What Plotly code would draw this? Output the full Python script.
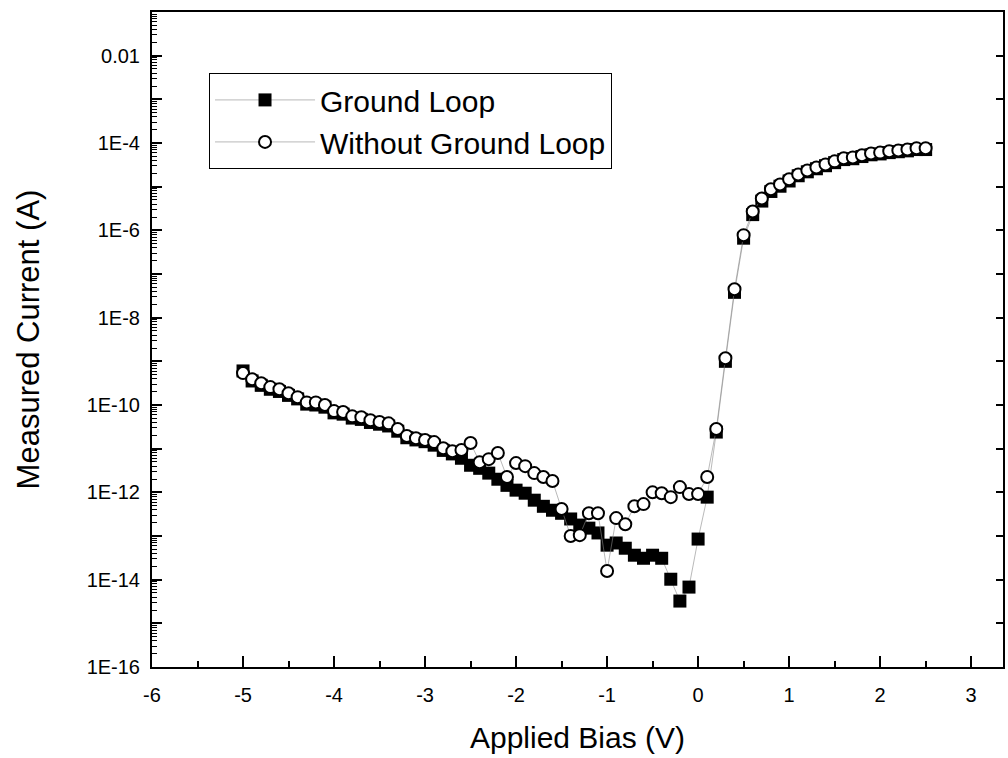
import plotly.graph_objects as go

bias_v = [-5.0, -4.9, -4.8, -4.7, -4.6, -4.5, -4.4, -4.3, -4.2, -4.1,
          -4.0, -3.9, -3.8, -3.7, -3.6, -3.5, -3.4, -3.3, -3.2, -3.1,
          -3.0, -2.9, -2.8, -2.7, -2.6, -2.5, -2.4, -2.3, -2.2, -2.1,
          -2.0, -1.9, -1.8, -1.7, -1.6, -1.5, -1.4, -1.3, -1.2, -1.1,
          -1.0, -0.9, -0.8, -0.7, -0.6, -0.5, -0.4, -0.3, -0.2, -0.1,
          0.0, 0.1, 0.2, 0.3, 0.4, 0.5, 0.6, 0.7, 0.8, 0.9,
          1.0, 1.1, 1.2, 1.3, 1.4, 1.5, 1.6, 1.7, 1.8, 1.9,
          2.0, 2.1, 2.2, 2.3, 2.4, 2.5]

# log10 of measured current (A)
log_i_ground_loop = [-9.22, -9.45, -9.55, -9.64, -9.69, -9.78, -9.86, -9.98, -10.00, -10.05,
                     -10.18, -10.21, -10.30, -10.33, -10.40, -10.44, -10.48, -10.60, -10.75, -10.80,
                     -10.84, -10.92, -11.04, -11.12, -11.22, -11.38, -11.45, -11.56, -11.70, -11.84,
                     -11.95, -12.02, -12.18, -12.32, -12.41, -12.48, -12.61, -12.75, -12.82, -12.93,
                     -13.21, -13.16, -13.28, -13.44, -13.51, -13.44, -13.51, -13.99, -14.49, -14.17,
                     -13.07, -12.11, -10.62, -9.00, -7.42, -6.18, -5.64, -5.33, -5.11, -4.99,
                     -4.87, -4.75, -4.66, -4.59, -4.52, -4.45, -4.38, -4.36, -4.31, -4.27,
                     -4.25, -4.22, -4.20, -4.18, -4.15, -4.15]

log_i_without_loop = [-9.27, -9.41, -9.50, -9.59, -9.64, -9.73, -9.82, -9.94, -9.94, -10.00,
                      -10.14, -10.16, -10.26, -10.28, -10.35, -10.39, -10.42, -10.55, -10.71, -10.76,
                      -10.80, -10.85, -10.99, -11.06, -11.03, -10.87, -11.31, -11.24, -11.10, -11.65,
                      -11.33, -11.40, -11.56, -11.65, -11.74, -12.38, -13.00, -12.98, -12.48, -12.48,
                      -13.80, -12.59, -12.73, -12.32, -12.27, -12.00, -12.02, -12.11, -11.88, -12.04,
                      -12.04, -11.65, -10.55, -8.93, -7.35, -6.11, -5.57, -5.27, -5.06, -4.95,
                      -4.83, -4.72, -4.63, -4.56, -4.49, -4.42, -4.35, -4.33, -4.28, -4.24,
                      -4.22, -4.19, -4.17, -4.15, -4.12, -4.12]

x_tick_vals = [-6, -5, -4, -3, -2, -1, 0, 1, 2, 3]
x_tick_text = ["-6", "-5", "-4", "-3", "-2", "-1", "0", "1", "2", "3"]

y_tick_vals = [1e-16, 1e-15, 1e-14, 1e-13, 1e-12, 1e-11, 1e-10, 1e-9, 1e-8,
               1e-7, 1e-6, 1e-5, 1e-4, 1e-3, 1e-2]
y_tick_text = ["1E-16", "", "1E-14", "", "1E-12", "", "1E-10", "", "1E-8",
               "", "1E-6", "", "1E-4", "", "0.01"]

i_ground = [10 ** v for v in log_i_ground_loop]
i_without = [10 ** v for v in log_i_without_loop]

FONT = "Liberation Sans, Arial, sans-serif"

fig = go.Figure()
fig.add_trace(go.Scatter(
    x=bias_v, y=i_ground, name="Ground Loop", mode="lines+markers",
    line=dict(color="#8a8a8a", width=0.6),
    marker=dict(symbol="square", size=13, color="black", line=dict(color="black", width=0)),
))
fig.add_trace(go.Scatter(
    x=bias_v, y=i_without, name="Without Ground Loop", mode="lines+markers",
    yaxis="y2",
    line=dict(color="#8a8a8a", width=0.6),
    marker=dict(symbol="circle", size=12, color="white", line=dict(color="black", width=2)),
))

fig.update_layout(
    width=1008, height=758,
    margin=dict(l=152, r=3, t=12, b=91),
    paper_bgcolor="white", plot_bgcolor="white",
    font=dict(family=FONT, color="black"),
    showlegend=True,
    legend=dict(
        x=0.067, y=0.907, xanchor="left", yanchor="top",
        bordercolor="black", borderwidth=1, bgcolor="white",
        font=dict(family=FONT, size=30, color="black"),
        itemwidth=100, tracegroupgap=0,
    ),
    xaxis=dict(
        range=[-6, 3.35],
        tickmode="array", tickvals=x_tick_vals, ticktext=x_tick_text,
        showgrid=False, zeroline=False,
        showline=True, linecolor="black", linewidth=2, mirror=True,
        ticks="inside", ticklen=11, tickwidth=1.5, tickcolor="black",
        minor=dict(dtick=0.5, tick0=0, ticks="inside", ticklen=6, tickwidth=1.5, tickcolor="black"),
        tickfont=dict(family=FONT, size=20),
        ticklabelstandoff=9,
        title=dict(text="Applied Bias (V)", font=dict(family=FONT, size=30), standoff=22),
    ),
    yaxis=dict(
        type="log", range=[-16, -1],
        tickmode="array", tickvals=y_tick_vals, ticktext=y_tick_text,
        showgrid=False, zeroline=False,
        showline=True, linecolor="black", linewidth=2, mirror=True,
        ticks="inside", ticklen=10, tickwidth=1.5, tickcolor="black",
        minor=dict(dtick="D1", ticks="inside", ticklen=5, tickwidth=1, tickcolor="black"),
        tickfont=dict(family=FONT, size=20),
        ticklabelstandoff=6,
        title=dict(text="Measured Current (A)", font=dict(family=FONT, size=31), standoff=38),
    ),
    yaxis2=dict(
        type="log", range=[-16, -1], overlaying="y", side="right",
        tickmode="array", tickvals=y_tick_vals,
        showgrid=False, zeroline=False, showline=False,
        ticks="inside", ticklen=7, tickwidth=1.5, tickcolor="black",
        showticklabels=False,
    ),
)

fig.write_html("out.html")
